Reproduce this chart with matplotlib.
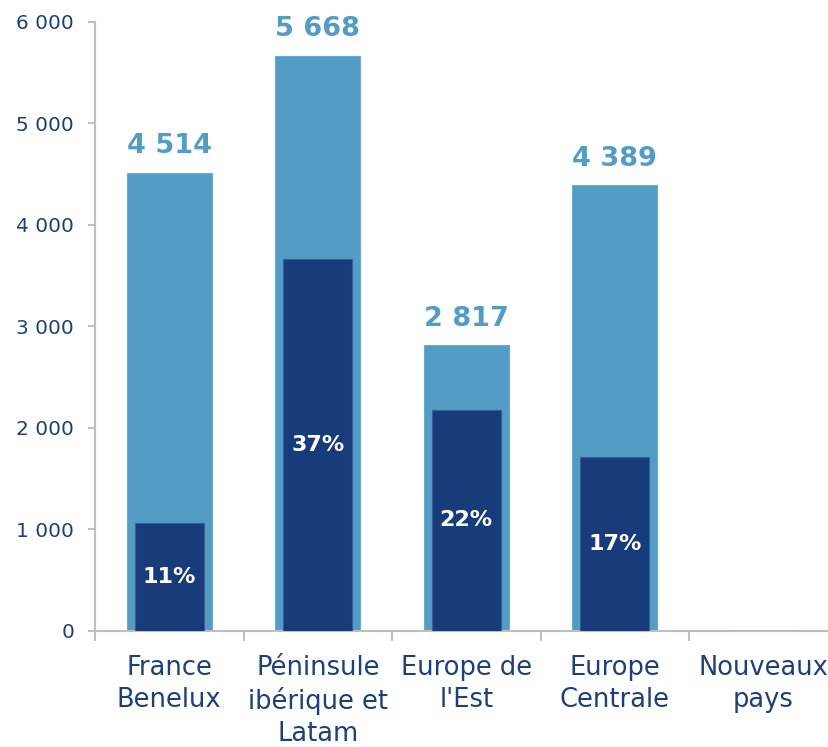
import matplotlib
matplotlib.use("Agg")
import matplotlib.pyplot as plt
import numpy as np

categories = ["France\nBenelux", "Péninsule\nibérique et\nLatam", "Europe de\nl'Est", "Europe\nCentrale", "Nouveaux\npays"]
totals = [4514, 5668, 2817, 4389, 0]
part = [1060, 3662, 2182, 1718, 0]
pct_labels = ["11%", "37%", "22%", "17%", ""]
yticks = [0, 1000, 2000, 3000, 4000, 5000, 6000]

LIGHT = "#529CC6"
DARK = "#173C79"
TXT = "#1F3F7A"
GRID = "#BFBFBF"

plt.rcParams['font.family'] = ['DejaVu Sans']

fig = plt.figure(figsize=(8.29, 7.47), dpi=100)
ax = fig.add_axes([0.1146, 0.1553, 0.8957, 0.8153])

x = np.arange(len(categories))
ax.bar(x, totals, width=0.57, color=LIGHT, edgecolor="#6AAAD0", linewidth=0.8, zorder=2)
ax.bar(x, part, width=0.465, color=DARK, edgecolor="#3A5F96", linewidth=0.8, zorder=3)

def fmt(v):
    return f"{v:,}".replace(",", " ")

for xi, t in zip(x, totals):
    if t > 0:
        ax.annotate(fmt(t), (xi, t), xytext=(0, 14), textcoords="offset points",
                    ha="center", va="baseline", fontsize=19.5, fontweight="bold", color=LIGHT)

for xi, p, lab in zip(x, part, pct_labels):
    if p > 0 and lab:
        ax.text(xi, p / 2, lab, ha="center", va="center", fontsize=16,
                fontweight="bold", color="white", zorder=4)

ax.set_xlim(-0.5, 4.5)
ax.set_ylim(0, 6000)
ax.set_yticks(yticks)
ax.set_yticklabels([fmt(v) for v in yticks])
ax.set_xticks(x)
ax.set_xticklabels(categories, fontsize=18.5, color=TXT, linespacing=1.27)
ax.set_xticks(np.arange(-0.5, 5.0, 1.0), minor=True)
ax.tick_params(axis="x", which="major", length=0, pad=17.5)
ax.tick_params(axis="x", which="minor", length=7, width=1.5, color=GRID, direction="out")
ax.tick_params(axis="y", length=5, width=1.5, color=GRID, labelsize=14.5, labelcolor=TXT, pad=10)

for s in ["top", "right"]:
    ax.spines[s].set_visible(False)
for s in ["left", "bottom"]:
    ax.spines[s].set_color(GRID)
    ax.spines[s].set_linewidth(1.5)

fig.savefig("out.png", dpi=100)
